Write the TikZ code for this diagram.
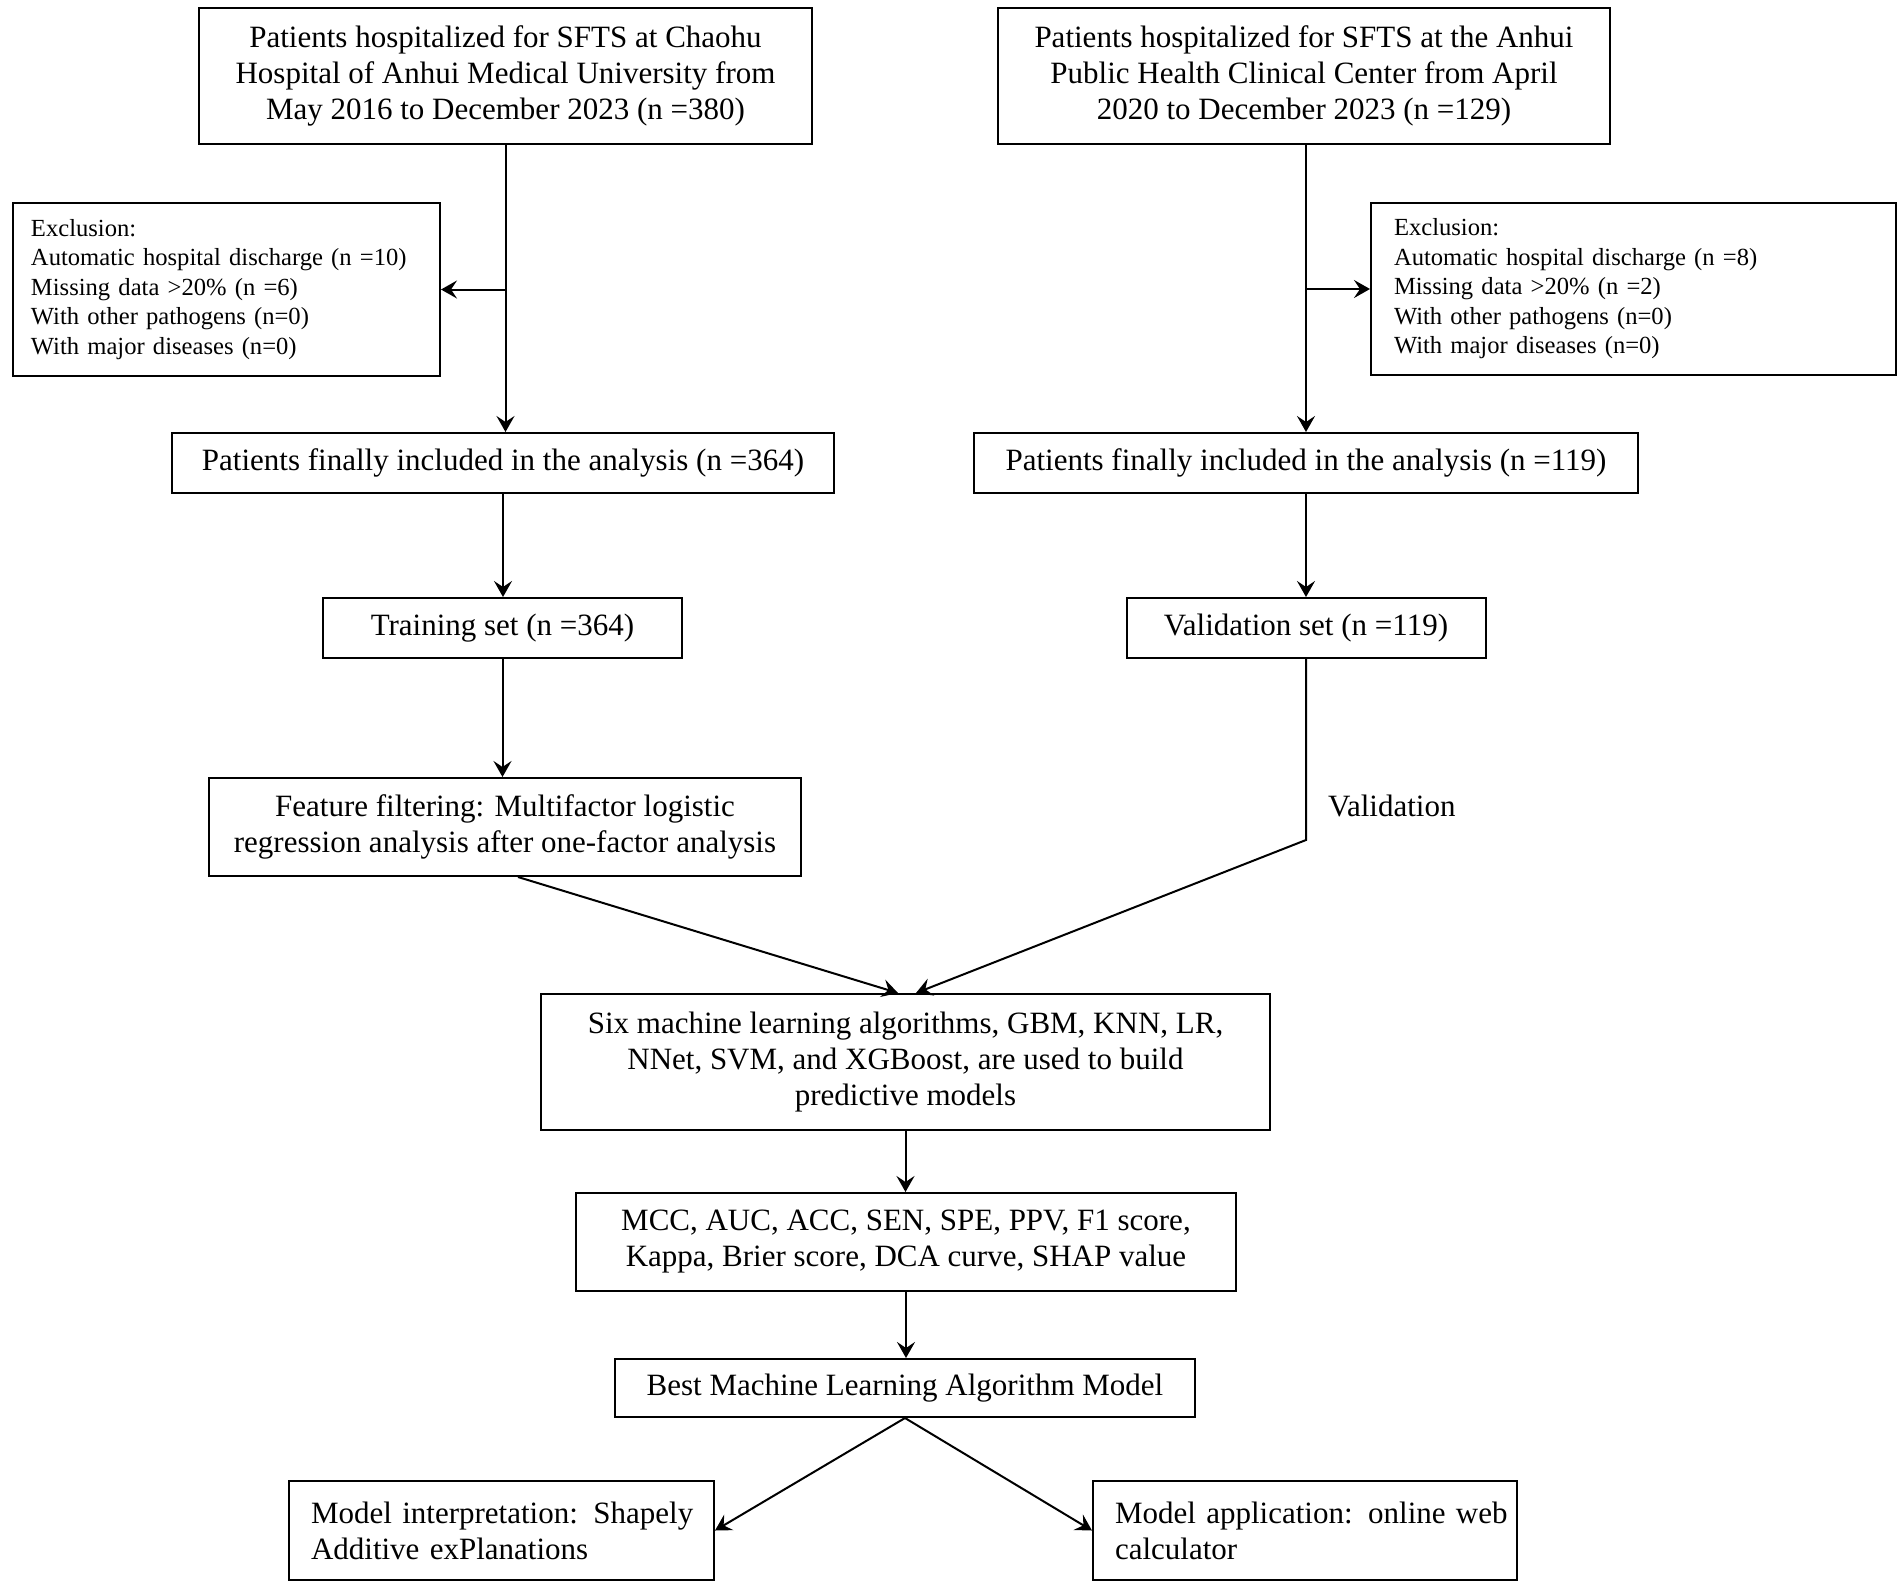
\documentclass[tikz,border=0pt]{standalone}
\usepackage{fontspec}
\setmainfont{Liberation Serif}
\usetikzlibrary{arrows.meta,calc}
\begin{document}
\begin{tikzpicture}[x=0.5pt,y=-0.5pt,
  every node/.style={font=\fontsize{15.5}{18}\selectfont},
  box/.style={draw,line width=1pt,inner sep=0pt,align=center},
  lbox/.style={draw,line width=1pt,inner ysep=0pt,align=left},
  exfont/.style={font=\fontsize{12.3}{14.75}\selectfont},
  arr/.style={line width=1pt,-{Stealth[length=8pt,width=9pt,inset=3pt]}}]
\useasboundingbox (0,0) rectangle (1902,1591);
\fill[white] (0,0) rectangle (1902,1591);
% top boxes
\node[box,minimum width=306.5pt,minimum height=68pt] (b1) at (505.5,76)
  {Patients hospitalized for SFTS at Chaohu\\Hospital of Anhui Medical University from\\May 2016 to December 2023 (n =380)};
\node[box,minimum width=306pt,minimum height=68pt] (b2) at (1304,76)
  {Patients hospitalized for SFTS at the Anhui\\Public Health Clinical Center from April\\2020 to December 2023 (n =129)};
% exclusion boxes
\node[lbox,exfont,inner xsep=9pt,text width=195.5pt,minimum height=86.5pt] (ex1) at (226.5,289.5)
  {Exclusion:\\\makebox[195pt][s]{Automatic hospital discharge (n =10)}\\Missing data >20\% (n =6)\\With other pathogens (n=0)\\With major diseases (n=0)};
\node[lbox,exfont,inner xsep=11.5pt,text width=239.5pt,minimum height=86pt] (ex2) at (1633.5,289)
  {Exclusion:\\Automatic hospital discharge (n =8)\\Missing data >20\% (n =2)\\With other pathogens (n=0)\\With major diseases (n=0)};
% included
\node[box,minimum width=331pt,minimum height=30pt] (f1) at (503,463) {Patients finally included in the analysis (n =364)};
\node[box,minimum width=332pt,minimum height=30pt] (f2) at (1306,463) {Patients finally included in the analysis (n =119)};
% sets
\node[box,minimum width=179.5pt,minimum height=30pt] (tr) at (502.5,628) {Training set (n =364)};
\node[box,minimum width=179.5pt,minimum height=30pt] (va) at (1306,628) {Validation set (n =119)};
% feature
\node[box,minimum width=296pt,minimum height=49pt] (fe) at (505,827)
  {Feature filtering: Multifactor logistic\\regression analysis after one-factor analysis};
\node[anchor=west] (vl) at (1321,806) {Validation};
% lower chain
\node[box,minimum width=364.5pt,minimum height=68pt] (six) at (905.5,1062)
  {Six machine learning algorithms, GBM, KNN, LR,\\NNet, SVM, and XGBoost, are used to build\\predictive models};
\node[box,minimum width=330pt,minimum height=49pt] (mcc) at (906,1242)
  {MCC, AUC, ACC, SEN, SPE, PPV, F1 score,\\Kappa, Brier score, DCA curve, SHAP value};
\node[box,minimum width=290pt,minimum height=29pt] (best) at (905,1388) {Best Machine Learning Algorithm Model};
\node[lbox,inner xsep=11pt,text width=190.5pt,minimum height=49.5pt] (int) at (501.5,1530.5)
  {\makebox[190.5pt][s]{Model interpretation: Shapely}\\Additive exPlanations};
\node[lbox,inner xsep=11pt,text width=190pt,minimum height=49.5pt] (app) at (1305,1530.5)
  {\mbox{Model application: online web}\\calculator};
% connectors
\draw[arr] (b1.south) -- (b1.south |- f1.north);
\draw[arr] (b1.south |- ex1.east) -- (ex1.east);
\draw[arr] (f2.north |- b2.south) -- (f2.north);
\draw[arr] (f2.north |- ex2.west) -- (ex2.west);
\draw[arr] (f1.south) -- (f1.south |- tr.north);
\draw[arr] (tr.south) -- (tr.south |- fe.north);
\draw[arr] (f2.south) -- (f2.south |- va.north);
\path (va.south) ++(0,181) coordinate (vb);
\draw[arr] (va.south) -- (vb) -- ($(six.north)+(5.25pt,0)$);
\draw[arr] ($(fe.south)+(6.5pt,0)$) -- ($(six.north)+(-3.75pt,0)$);
\draw[arr] (six.south) -- (six.south |- mcc.north);
\draw[arr] (mcc.south) -- (mcc.south |- best.north);
\draw[arr] (best.south) -- (int.east);
\draw[arr] (best.south) -- (app.west);
\end{tikzpicture}
\end{document}
